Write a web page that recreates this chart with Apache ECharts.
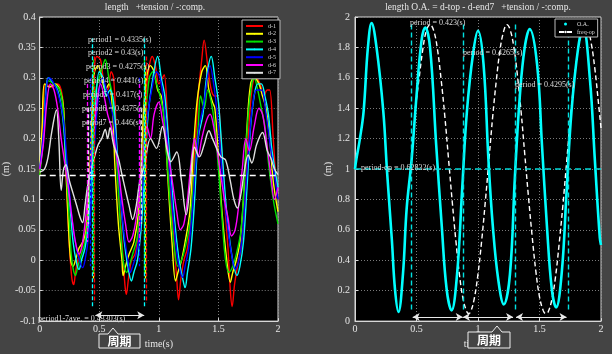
<!DOCTYPE html>
<html><head><meta charset="utf-8">
<script src="https://cdn.jsdelivr.net/npm/echarts/dist/echarts.min.js"></script>
<style>html,body{margin:0;padding:0;background:#444444;}#c{width:612px;height:354px;}</style>
</head><body><div id="c"></div>
<script>
// ---------- data (left: displacement of d-1..d-7) ----------
const d1 = [[0,0.14],[0.02,0.2],[0.035,0.28],[0.05,0.29],[0.1,0.285],[0.15,0.29],[0.19,0.27],[0.21,0.2],[0.23,0.1],[0.25,0.02],[0.27,-0.03],[0.285,-0.04],[0.3,-0.02],[0.32,0.0],[0.35,0.02],[0.38,0.04],[0.41,0.1],[0.43,0.2],[0.45,0.3],[0.48,0.335],[0.51,0.33],[0.54,0.29],[0.57,0.28],[0.6,0.31],[0.62,0.3],[0.64,0.22],[0.66,0.12],[0.69,0.03],[0.715,-0.04],[0.727,-0.056],[0.745,-0.03],[0.77,0.0],[0.8,0.01],[0.83,0.05],[0.86,0.15],[0.89,0.27],[0.92,0.32],[0.945,0.335],[0.97,0.32],[1.0,0.29],[1.03,0.3],[1.045,0.305],[1.07,0.24],[1.09,0.14],[1.12,0.05],[1.15,-0.03],[1.165,-0.065],[1.185,-0.03],[1.21,0.0],[1.24,0.02],[1.27,0.07],[1.3,0.17],[1.33,0.27],[1.36,0.33],[1.38,0.362],[1.41,0.32],[1.44,0.28],[1.47,0.27],[1.49,0.27],[1.52,0.2],[1.55,0.1],[1.58,0.02],[1.6,-0.05],[1.615,-0.076],[1.635,-0.04],[1.66,-0.01],[1.69,0.02],[1.72,0.08],[1.75,0.2],[1.78,0.28],[1.81,0.3],[1.85,0.29],[1.88,0.27],[1.91,0.28],[1.93,0.28],[1.96,0.2],[1.98,0.14],[2.0,0.1]];
const d2 = [[0,0.15],[0.02,0.22],[0.04,0.29],[0.08,0.285],[0.13,0.29],[0.17,0.28],[0.2,0.25],[0.22,0.15],[0.24,0.06],[0.26,0.0],[0.28,-0.01],[0.3,0.0],[0.33,0.02],[0.36,0.03],[0.39,0.05],[0.42,0.14],[0.44,0.25],[0.46,0.31],[0.49,0.32],[0.52,0.3],[0.55,0.28],[0.58,0.29],[0.61,0.25],[0.63,0.16],[0.66,0.06],[0.69,0.0],[0.7,-0.025],[0.72,-0.01],[0.75,0.01],[0.79,0.03],[0.83,0.08],[0.86,0.2],[0.89,0.29],[0.93,0.32],[0.96,0.31],[0.99,0.28],[1.02,0.27],[1.05,0.22],[1.08,0.12],[1.11,0.03],[1.14,-0.034],[1.16,-0.02],[1.19,0.0],[1.22,0.03],[1.26,0.08],[1.29,0.18],[1.32,0.26],[1.36,0.31],[1.39,0.32],[1.42,0.28],[1.45,0.26],[1.47,0.25],[1.5,0.17],[1.53,0.08],[1.57,0.0],[1.6,-0.036],[1.62,-0.02],[1.65,0.0],[1.68,0.03],[1.71,0.1],[1.74,0.22],[1.77,0.29],[1.8,0.3],[1.84,0.29],[1.87,0.27],[1.9,0.25],[1.93,0.2],[1.96,0.13],[2.0,0.08]];
const d3 = [[0,0.14],[0.03,0.2],[0.05,0.28],[0.07,0.295],[0.12,0.29],[0.17,0.28],[0.2,0.24],[0.22,0.16],[0.25,0.06],[0.27,0.0],[0.3,-0.025],[0.32,-0.01],[0.35,0.01],[0.38,0.03],[0.41,0.08],[0.44,0.19],[0.47,0.28],[0.5,0.3],[0.53,0.32],[0.55,0.33],[0.58,0.3],[0.61,0.27],[0.64,0.18],[0.67,0.08],[0.7,0.0],[0.73,-0.02],[0.75,-0.01],[0.78,0.01],[0.82,0.04],[0.86,0.14],[0.89,0.24],[0.92,0.3],[0.95,0.31],[0.98,0.29],[1.01,0.27],[1.04,0.24],[1.07,0.16],[1.1,0.08],[1.13,0.02],[1.16,-0.01],[1.19,0.0],[1.22,0.02],[1.26,0.06],[1.3,0.15],[1.33,0.22],[1.35,0.27],[1.38,0.25],[1.41,0.28],[1.44,0.26],[1.47,0.22],[1.5,0.15],[1.53,0.07],[1.56,0.0],[1.59,-0.02],[1.62,-0.01],[1.65,0.01],[1.69,0.05],[1.72,0.14],[1.75,0.24],[1.78,0.29],[1.8,0.3],[1.83,0.28],[1.86,0.25],[1.89,0.22],[1.92,0.16],[1.96,0.1],[2.0,0.06]];
const d4 = [[0,0.15],[0.03,0.2],[0.05,0.27],[0.07,0.3],[0.1,0.295],[0.15,0.28],[0.19,0.24],[0.22,0.17],[0.25,0.1],[0.28,0.03],[0.31,-0.005],[0.33,-0.015],[0.35,0.0],[0.38,0.02],[0.41,0.06],[0.44,0.16],[0.47,0.26],[0.5,0.31],[0.53,0.3],[0.56,0.27],[0.59,0.28],[0.62,0.26],[0.65,0.18],[0.68,0.1],[0.71,0.03],[0.74,-0.01],[0.77,-0.034],[0.79,-0.02],[0.82,0.0],[0.85,0.05],[0.88,0.14],[0.91,0.24],[0.95,0.3],[0.99,0.335],[1.02,0.3],[1.05,0.27],[1.08,0.2],[1.11,0.12],[1.14,0.05],[1.17,0.0],[1.2,-0.03],[1.22,-0.045],[1.24,-0.02],[1.27,0.02],[1.3,0.1],[1.33,0.2],[1.37,0.24],[1.4,0.3],[1.44,0.335],[1.47,0.3],[1.5,0.26],[1.53,0.18],[1.56,0.1],[1.59,0.04],[1.62,0.0],[1.655,-0.025],[1.68,-0.01],[1.71,0.03],[1.74,0.12],[1.77,0.22],[1.8,0.27],[1.83,0.29],[1.86,0.29],[1.89,0.27],[1.92,0.24],[1.95,0.18],[2.0,0.12]];
const d5 = [[0,0.15],[0.03,0.21],[0.06,0.29],[0.08,0.3],[0.12,0.29],[0.16,0.27],[0.2,0.23],[0.23,0.16],[0.26,0.09],[0.29,0.04],[0.32,0.01],[0.36,-0.012],[0.38,0.0],[0.41,0.04],[0.44,0.12],[0.47,0.22],[0.5,0.28],[0.53,0.3],[0.56,0.28],[0.59,0.26],[0.62,0.23],[0.65,0.17],[0.68,0.1],[0.71,0.04],[0.74,0.0],[0.76,-0.02],[0.78,-0.01],[0.81,0.01],[0.84,0.05],[0.87,0.14],[0.9,0.23],[0.94,0.28],[0.98,0.31],[1.01,0.3],[1.04,0.26],[1.07,0.2],[1.1,0.12],[1.13,0.05],[1.16,0.0],[1.2,-0.028],[1.22,-0.01],[1.25,0.02],[1.28,0.08],[1.31,0.16],[1.34,0.22],[1.38,0.26],[1.43,0.32],[1.46,0.29],[1.49,0.24],[1.52,0.17],[1.55,0.1],[1.58,0.05],[1.61,0.01],[1.64,-0.015],[1.67,0.0],[1.7,0.04],[1.73,0.12],[1.76,0.2],[1.79,0.26],[1.82,0.28],[1.86,0.28],[1.9,0.24],[1.94,0.18],[1.97,0.14],[2.0,0.1]];
const d6 = [[0,0.15],[0.03,0.19],[0.06,0.26],[0.09,0.29],[0.12,0.28],[0.15,0.25],[0.18,0.2],[0.21,0.16],[0.24,0.12],[0.27,0.07],[0.3,0.03],[0.33,0.01],[0.36,0.03],[0.39,0.08],[0.42,0.14],[0.45,0.2],[0.48,0.26],[0.51,0.29],[0.54,0.27],[0.57,0.24],[0.6,0.22],[0.63,0.19],[0.66,0.15],[0.69,0.1],[0.72,0.06],[0.75,0.03],[0.78,0.04],[0.81,0.07],[0.84,0.12],[0.87,0.18],[0.9,0.22],[0.93,0.2],[0.96,0.24],[1.0,0.26],[1.03,0.23],[1.06,0.2],[1.09,0.16],[1.12,0.12],[1.15,0.08],[1.18,0.05],[1.21,0.06],[1.24,0.1],[1.27,0.16],[1.3,0.2],[1.33,0.17],[1.36,0.2],[1.4,0.23],[1.43,0.24],[1.46,0.22],[1.49,0.18],[1.52,0.14],[1.55,0.1],[1.58,0.07],[1.61,0.04],[1.64,0.05],[1.67,0.09],[1.7,0.15],[1.73,0.2],[1.76,0.18],[1.8,0.22],[1.84,0.25],[1.87,0.24],[1.9,0.2],[1.94,0.14],[1.97,0.1],[2.0,0.12]];
const d7 = [[0,0.145],[0.04,0.15],[0.07,0.17],[0.1,0.21],[0.14,0.247],[0.16,0.2],[0.18,0.115],[0.2,0.15],[0.22,0.157],[0.25,0.13],[0.28,0.11],[0.31,0.09],[0.34,0.07],[0.36,0.062],[0.38,0.09],[0.4,0.12],[0.43,0.147],[0.46,0.17],[0.49,0.19],[0.52,0.2],[0.55,0.215],[0.57,0.2],[0.59,0.218],[0.62,0.19],[0.66,0.168],[0.69,0.141],[0.72,0.115],[0.75,0.09],[0.78,0.067],[0.81,0.09],[0.84,0.13],[0.88,0.157],[0.93,0.2],[0.98,0.184],[1.03,0.22],[1.07,0.18],[1.1,0.162],[1.15,0.178],[1.19,0.13],[1.23,0.075],[1.26,0.12],[1.3,0.186],[1.34,0.17],[1.38,0.19],[1.42,0.213],[1.45,0.2],[1.48,0.186],[1.52,0.17],[1.56,0.165],[1.6,0.13],[1.63,0.1],[1.66,0.086],[1.69,0.11],[1.72,0.15],[1.75,0.173],[1.78,0.16],[1.82,0.19],[1.87,0.21],[1.91,0.18],[1.94,0.168],[1.97,0.15],[2.0,0.141]];

// period marker times (start, end of one period) and vertical extent [top, bottom]
const d1Marks = [0.46, 0.8935], d1Span = [0.335, -0.07];
const d2Marks = [0.452, 0.882], d2Span = [0.32, -0.03];
const d3Marks = [0.447, 0.8745], d3Span = [0.33, -0.02];
const d4Marks = [0.44, 0.881], d4Span = [0.365, -0.076];
const d5Marks = [0.42, 0.837], d5Span = [0.3, -0.01];
const d6Marks = [0.40, 0.8375], d6Span = [0.29, 0.03];
const d7Marks = [0.41, 0.856], d7Span = [0.25, 0.06];
const leftLevel = 0.145;
const leftArrow = [0.467, 0.877], leftArrowY = -0.0905;

// ---------- data (right: overall length O.A. and freq-op) ----------
const oa = [[0,1.0],[0.01,1.06],[0.04,1.2],[0.07,1.38],[0.105,1.8],[0.135,1.96],[0.175,1.8],[0.23,1.38],[0.26,0.99],[0.3,0.53],[0.325,0.21],[0.353,0.06],[0.39,0.31],[0.42,0.74],[0.46,1.06],[0.5,1.48],[0.54,1.84],[0.57,1.93],[0.61,1.8],[0.66,1.16],[0.705,0.63],[0.745,0.21],[0.785,0.07],[0.83,0.31],[0.87,0.85],[0.91,1.38],[0.96,1.76],[1.0,1.91],[1.045,1.69],[1.085,1.06],[1.12,0.63],[1.165,0.27],[1.21,0.11],[1.26,0.31],[1.3,0.95],[1.34,1.48],[1.38,1.8],[1.42,1.92],[1.48,1.69],[1.52,1.16],[1.56,0.63],[1.6,0.21],[1.635,0.09],[1.68,0.31],[1.72,0.85],[1.76,1.38],[1.815,1.8],[1.855,1.93],[1.91,1.59],[1.95,1.06],[1.99,0.55],[2.0,0.5]];
const freqOp = [[0.49,1.40],[0.52,1.59],[0.55,1.78],[0.58,1.91],[0.61,1.95],[0.64,1.91],[0.67,1.79],[0.70,1.59],[0.73,1.35],[0.76,1.07],[0.79,0.79],[0.82,0.53],[0.85,0.30],[0.88,0.14],[0.91,0.06],[0.925,0.05],[0.94,0.06],[0.97,0.15],[1.0,0.31],[1.03,0.53],[1.06,0.79],[1.09,1.07],[1.12,1.35],[1.15,1.59],[1.18,1.79],[1.21,1.91],[1.235,1.95],[1.26,1.92],[1.29,1.81],[1.32,1.62],[1.35,1.38],[1.38,1.10],[1.41,0.82],[1.44,0.56],[1.47,0.33],[1.50,0.16],[1.53,0.07],[1.55,0.05],[1.57,0.06],[1.60,0.14],[1.63,0.29],[1.66,0.51],[1.69,0.76],[1.72,1.04],[1.75,1.32],[1.78,1.57],[1.81,1.77],[1.84,1.90],[1.865,1.95],[1.89,1.93],[1.92,1.83],[1.95,1.66],[1.98,1.43],[2.0,1.27]];
const oaMarks = [0.455, 0.878, 1.3045, 1.734], oaSpan = [1.95, 0.06];
const rightLevel = 1.0;
const rightArrows = [[0.469, 0.876], [0.878, 1.285], [1.309, 1.72]], rightArrowY = 0.027;

// ---------- tick / label texts ----------
const leftNames = ['d-1','d-2','d-3','d-4','d-5','d-6','d-7'];
const leftColors = ['#ff0000','#ffff00','#00e000','#00ffff','#0000ff','#ff00ff','#e0e0e0'];
const leftPeriods = ['period1 = 0.4335(s)','period2 = 0.43(s)','period3 = 0.4275(s)','period4 = 0.441(s)','period5 = 0.417(s)','period6 = 0.4375(s)','period7 = 0.446(s)'];
const leftAve = 'period1-7ave. = 0.43303(s)';
const rightPeriods = ['period = 0.423(s)','period = 0.4265(s)','period = 0.4295(s)'];
const rightOp = 'period-op = 0.62832(s)';

const serif = '"Liberation Serif", "DejaVu Serif", serif';
const txt = '#e6e6e6';
const leftData = [d1,d2,d3,d4,d5,d6,d7];
const leftMarks = [d1Marks,d2Marks,d3Marks,d4Marks,d5Marks,d6Marks,d7Marks];
const leftSpans = [d1Span,d2Span,d3Span,d4Span,d5Span,d6Span,d7Span];

function axisCommon(){
  return {
    axisLine:{show:true,onZero:false,lineStyle:{color:'#d8d8d8',width:1}},
    axisTick:{show:true,inside:true,length:3,lineStyle:{color:'#d8d8d8'}},
    axisLabel:{color:txt,fontFamily:serif,fontSize:10},
    splitLine:{show:true,lineStyle:{color:'#7a7a7a',type:[1,2],width:1}},
    nameTextStyle:{color:txt,fontFamily:serif,fontSize:10}
  };
}
const xa0 = Object.assign(axisCommon(),{gridIndex:0,type:'value',min:0,max:2,interval:0.5,name:'time(s)',nameLocation:'middle',nameGap:14});
xa0.axisLabel.margin = 3;
const xa1 = Object.assign(axisCommon(),{gridIndex:1,type:'value',min:0,max:2,interval:0.5,name:'time(s)',nameLocation:'middle',nameGap:17});
xa1.axisLabel.margin = 3;
const ya0 = Object.assign(axisCommon(),{gridIndex:0,type:'value',min:-0.1,max:0.4,interval:0.05,name:'(m)',nameLocation:'middle',nameGap:23});
ya0.axisLabel.margin = 4;
const ya1 = Object.assign(axisCommon(),{gridIndex:1,type:'value',min:0,max:2,interval:0.2,name:'(m)',nameLocation:'middle',nameGap:17});
ya1.axisLabel.margin = 5;

const series = [];
leftData.forEach((d,i)=>{
  series.push({
    name:leftNames[i], type:'line', xAxisIndex:0, yAxisIndex:0, data:d, symbol:'none', smooth:0.35,
    lineStyle:{color:leftColors[i],width:1.4}, itemStyle:{color:leftColors[i]}, silent:true, z:3,
    markLine:{silent:true,symbol:'none',label:{show:false},
      lineStyle:{color:leftColors[i],type:[4,2],width:1.3},
      data:leftMarks[i].map(t=>[{coord:[t,leftSpans[i][0]]},{coord:[t,leftSpans[i][1]]}])}
  });
});
series.push({
  name:'refL', type:'line', xAxisIndex:0, yAxisIndex:0, data:[], silent:true,
  markLine:{silent:true,symbol:'none',label:{show:false},
    data:[
      {yAxis:leftLevel,lineStyle:{color:'#ffffff',type:[6,4],width:1.4}},
      [{coord:[leftArrow[0],leftArrowY],symbol:'arrow',lineStyle:{color:'#e8e8e8',type:'solid',width:1.2}},{coord:[leftArrow[1],leftArrowY],symbol:'arrow'}]
    ], symbolSize:[6,7]}
});
series.push({
  name:'O.A.', type:'line', xAxisIndex:1, yAxisIndex:1, data:oa, symbol:'none', smooth:0.4,
  lineStyle:{color:'#00ffff',width:2.6}, itemStyle:{color:'#00ffff'}, silent:true, z:3,
  markLine:{silent:true,symbol:'none',label:{show:false},
    lineStyle:{color:'#00e0e0',type:[5,3],width:1.4},
    data:oaMarks.map(t=>[{coord:[t,oaSpan[0]]},{coord:[t,oaSpan[1]]}]).concat([{yAxis:rightLevel,lineStyle:{color:'#00d8d8',type:[6,4],width:1.6}}])}
});
series.push({
  name:'freq-op', type:'line', xAxisIndex:1, yAxisIndex:1, data:freqOp, symbol:'none', smooth:0.4,
  lineStyle:{color:'#ffffff',width:1.4,type:[5,3]}, itemStyle:{color:'#ffffff'}, silent:true, z:2
});
series.push({
  name:'refR', type:'line', xAxisIndex:1, yAxisIndex:1, data:[], silent:true,
  markLine:{silent:true,symbol:['arrow','arrow'],symbolSize:[6,7],label:{show:false},
    lineStyle:{color:'#e8e8e8',type:'solid',width:1.2},
    data:rightArrows.map(a=>[{coord:[a[0],rightArrowY]},{coord:[a[1],rightArrowY]}])}
});

const graphics = [];
const lpPos = [[88,40],[88,53],[86,67],[84,81],[83,95],[82,109],[82,123]];
leftPeriods.forEach((s,i)=>graphics.push({type:'text',x:lpPos[i][0],y:lpPos[i][1],z:50,style:{text:s,fill:'#dcdcdc',font:'8px '+serif,verticalAlign:'middle'}}));
graphics.push({type:'text',x:38,y:319,z:50,style:{text:leftAve,fill:'#dcdcdc',font:'8px '+serif,verticalAlign:'middle'}});
const rpPos = [[410,23],[463,53],[515,85]];
rightPeriods.forEach((s,i)=>graphics.push({type:'text',x:rpPos[i][0],y:rpPos[i][1],z:50,style:{text:s,fill:'#dcdcdc',font:'8px '+serif,verticalAlign:'middle'}}));
graphics.push({type:'text',x:361,y:168,z:50,style:{text:rightOp,fill:'#dcdcdc',font:'8px '+serif,verticalAlign:'middle'}});
// titles
graphics.push({type:'text',x:155,y:7,z:50,style:{text:'length   +tension / -:comp.',fill:txt,font:'9.5px '+serif,align:'center',verticalAlign:'middle'}});
graphics.push({type:'text',x:478,y:7,z:50,style:{text:'length O.A. = d-top - d-end7   +tension / -:comp.',fill:txt,font:'9.5px '+serif,align:'center',verticalAlign:'middle'}});
// callout boxes "周期"
function callout(x,y,w,h,cx){
  graphics.push({type:'polygon',z:60,shape:{points:[[x,y],[cx-5,y],[cx,y-6],[cx+5,y],[x+w,y],[x+w,y+h],[x,y+h]]},style:{fill:'#444444',stroke:'#eeeeee',lineWidth:1}});
  graphics.push({type:'text',z:61,x:x+w/2,y:y+h/2+0.5,style:{text:'周期',fill:'#ffffff',font:'bold 12px "Noto Sans CJK JP"',align:'center',verticalAlign:'middle'}});
}
callout(99,334,41,14,113);
callout(468,332,42,16,497);

const option = {
  backgroundColor:'#444444',
  animation:false,
  grid:[
    {left:33,right:334,top:17,bottom:22,show:true,backgroundColor:'#000',borderColor:'#d8d8d8',borderWidth:1},
    {left:355,right:11,top:17,bottom:23,show:true,backgroundColor:'#000',borderColor:'#d8d8d8',borderWidth:1}
  ],
  xAxis:[xa0,xa1],
  yAxis:[ya0,ya1],
  legend:[
    {data:leftNames,orient:'vertical',left:242,top:20,itemWidth:17,itemHeight:2,itemGap:1.8,padding:[3,4,3,3],
     backgroundColor:'#000',borderColor:'#bbbbbb',borderWidth:1,textStyle:{color:'#dddddd',fontSize:6,fontFamily:serif},selectedMode:false,z:40},
    {data:[{name:'O.A.',icon:'path://M0,0h0.01v0.01h-0.01z M5,1.5a1.5,1.5 0 1,0 3,0a1.5,1.5 0 1,0 -3,0z M13,3h-0.01v-0.01h0.01z'},'freq-op'],
     orient:'vertical',left:555,top:19,itemWidth:13,itemHeight:3,itemGap:2,padding:[2,3,2,3],
     backgroundColor:'#000',borderColor:'#bbbbbb',borderWidth:1,textStyle:{color:'#dddddd',fontSize:6,fontFamily:serif},selectedMode:false,z:40}
  ],
  graphic:graphics,
  series:series
};
const chart = echarts.init(document.getElementById('c'));
chart.setOption(option);
</script></body></html>
